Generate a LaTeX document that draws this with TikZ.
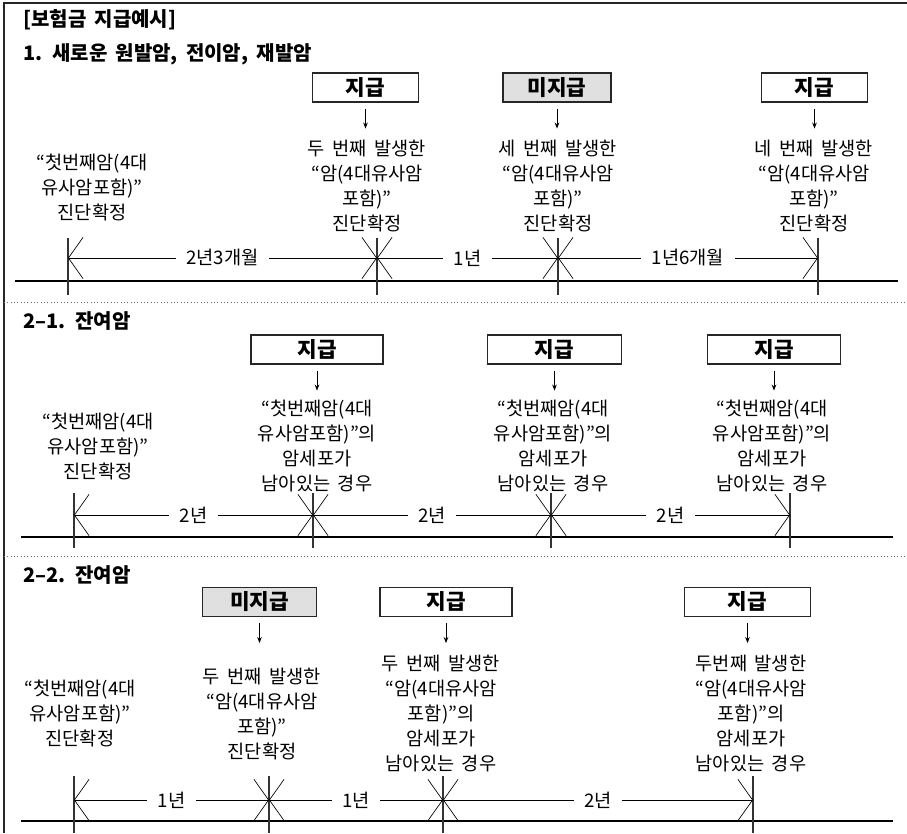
\documentclass[tikz,border=0pt]{standalone}
\usepackage{fontspec}
\setmainfont{Noto Sans CJK KR}[WordSpace=1.8]
\usetikzlibrary{arrows.meta}

\tikzset{
  every node/.style={font=\fontsize{14}{18.75}\selectfont},
  paybox/.style={draw=black!85, line width=0.8pt, minimum height=21.75pt, inner sep=0pt,
    font=\fontsize{16}{18}\selectfont\bfseries},
  nopaybox/.style={paybox, fill=black!12},
  caption/.style={align=center, inner sep=0pt},
  heading/.style={anchor=west, inner sep=0pt, font=\fontsize{15}{17}\selectfont\bfseries},
  pointer/.style={-{Stealth[length=4.5pt,width=3.5pt]}, line width=0.6pt},
  timeline/.style={line width=1.4pt},
  tickline/.style={line width=0.8pt, black!80},
  span/.style={{Straight Barb[length=11pt,width=31pt]}-{Straight Barb[length=11pt,width=31pt]}, line width=0.5pt},
  spanlabel/.style={fill=white, inner xsep=8pt, inner ysep=1pt},
  sepline/.style={dotted, black!60, line width=0.5pt}
}

\begin{document}
\begin{tikzpicture}[x=0.75pt, y=-0.75pt]
  \useasboundingbox (0,0) rectangle (907,833);
  % frame
  \draw[line width=1.1pt, black!85] (4,833) -- (4,3) -- (907,3);
  \draw[sepline] (4,302) -- (907,302);
  \draw[sepline] (4,556) -- (907,556);

  \node[heading] (title) at (23,20) {[보험금 지급예시]};

  % 1. 새로운 원발암
  \node[heading] (h1) at (23,54) {1. 새로운 원발암, 전이암, 재발암};
  \node[paybox, minimum width=79.5pt] (b11) at (365.5,87.5) {지급};
  \node[nopaybox, minimum width=81pt] (b12) at (557,87.5) {미지급};
  \node[paybox, minimum width=79pt] (b13) at (814.5,87.5) {지급};
  \foreach \b in {b11,b12,b13}
    \draw[pointer] ([yshift=-4.5pt]\b.south) -- ++(0,20);
  \node[caption] (t10) at (92,187) {“첫번째암(4대\\유사암포함)”\\진단확정};
  \node[caption] (t11) at (367,186.5) {두 번째 발생한\\“암(4대유사암\\포함)”\\진단확정};
  \node[caption] (t12) at (558,186.5) {세 번째 발생한\\“암(4대유사암\\포함)”\\진단확정};
  \node[caption] (t13) at (814,186.5) {네 번째 발생한\\“암(4대유사암\\포함)”\\진단확정};
  \draw[timeline] (15,281) -- (898,281);
  \foreach \n/\x in {a0/68, a1/377, a2/558, a3/818} {
    \coordinate (\n) at (\x,258);
    \draw[tickline] (\x,238) -- (\x,295);
  }
  \draw[span] (a0) -- node[spanlabel] (d11) {2년3개월} (a1);
  \draw[span] (a1) -- node[spanlabel] (d12) {1년} (a2);
  \draw[span] (a2) -- node[spanlabel] (d13) {1년6개월} (a3);

  % 2-1. 잔여암
  \node[heading] (h2) at (23,321) {2–1. 잔여암};
  \node[paybox, minimum width=99pt] (b21) at (317,349.5) {지급};
  \node[paybox, minimum width=101pt] (b22) at (554.5,349.5) {지급};
  \node[paybox, minimum width=100pt] (b23) at (774,349.5) {지급};
  \foreach \b in {b21,b22,b23}
    \draw[pointer] ([yshift=-4.5pt]\b.south) -- ++(0,20);
  \node[caption] (t20) at (98,446) {“첫번째암(4대\\유사암포함)”\\진단확정};
  \node[caption] (t21) at (317,446) {“첫번째암(4대\\유사암포함)”의\\암세포가\\남아있는 경우};
  \node[caption] (t22) at (553,446) {“첫번째암(4대\\유사암포함)”의\\암세포가\\남아있는 경우};
  \node[caption] (t23) at (772,446) {“첫번째암(4대\\유사암포함)”의\\암세포가\\남아있는 경우};
  \draw[timeline] (21,537) -- (893,537);
  \foreach \n/\x in {c0/74, c1/313, c2/551, c3/790} {
    \coordinate (\n) at (\x,515);
    \draw[tickline] (\x,493) -- (\x,548);
  }
  \draw[span] (c0) -- node[spanlabel] (d21) {2년} (c1);
  \draw[span] (c1) -- node[spanlabel] (d22) {2년} (c2);
  \draw[span] (c2) -- node[spanlabel] (d23) {2년} (c3);

  % 2-2. 잔여암
  \node[heading] (h3) at (23,575) {2–2. 잔여암};
  \node[nopaybox, minimum width=86pt] (b31) at (259.5,602) {미지급};
  \node[paybox, minimum width=99pt] (b32) at (446,602) {지급};
  \node[paybox, minimum width=94pt] (b33) at (747.5,602) {지급};
  \foreach \b in {b31,b32,b33}
    \draw[pointer] ([yshift=-4.5pt]\b.south) -- ++(0,20);
  \node[caption] (t30) at (80,713) {“첫번째암(4대\\유사암포함)”\\진단확정};
  \node[caption] (t31) at (262,714) {두 번째 발생한\\“암(4대유사암\\포함)”\\진단확정};
  \node[caption] (t32) at (441,713) {두 번째 발생한\\“암(4대유사암\\포함)”의\\암세포가\\남아있는 경우};
  \node[caption] (t33) at (751,713) {두번째 발생한\\“암(4대유사암\\포함)”의\\암세포가\\남아있는 경우};
  \draw[timeline] (21,821) -- (893,821);
  \foreach \n/\x in {e0/74, e1/269, e2/443, e3/753} {
    \coordinate (\n) at (\x,800);
    \draw[tickline] (\x,776) -- (\x,833);
  }
  \draw[span] (e0) -- node[spanlabel] (d31) {1년} (e1);
  \draw[span] (e1) -- node[spanlabel] (d32) {1년} (e2);
  \draw[span] (e2) -- node[spanlabel] (d33) {2년} (e3);
\end{tikzpicture}
\end{document}
